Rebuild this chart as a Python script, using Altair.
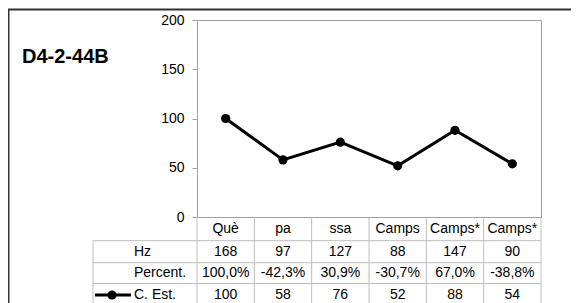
import altair as alt
import pandas as pd

# ---- data ----
title_text = "D4-2-44B"
categories = ["Què", "pa", "ssa", "Camps", "Camps*", "Camps*"]
hz_values = [168, 97, 127, 88, 147, 90]
percent_labels = ["100,0%", "-42,3%", "30,9%", "-30,7%", "67,0%", "-38,8%"]
c_est_values = [100, 58, 76, 52, 88, 54]
row_headers = ["Hz", "Percent.", "C. Est."]
y_ticks = [0, 50, 100, 150, 200]

idx = [str(i) for i in range(len(categories))]
df = pd.DataFrame({
    "idx": idx,
    "cat": categories,
    "hz": [str(v) for v in hz_values],
    "pct": percent_labels,
    "est": c_est_values,
    "est_txt": [str(v) for v in c_est_values],
})

W, H = 344, 197
STEP = W / len(categories)
FONT = "Liberation Sans"
GRID = "#bdbdbd"

xs = alt.X("idx:N", scale=alt.Scale(type="point", padding=0.5, domain=idx), axis=None)
ys = alt.Y("est:Q", scale=alt.Scale(domain=[0, 200]),
           axis=alt.Axis(values=y_ticks, grid=False, tickSize=5, labelPadding=8,
                         labelFontSize=14, labelColor="black", tickColor="#a0a0a0",
                         domainColor="#a0a0a0", title=None, labelFont=FONT))

base = alt.Chart(df)

line = base.mark_line(color="black", strokeWidth=3).encode(x=xs, y=ys)
pts = base.mark_point(filled=True, color="black", size=85, opacity=1).encode(x=xs, y=ys)

# table vertical dividers (column boundaries), from plot bottom downward
vdiv = base.mark_rule(color=GRID, strokeWidth=1, xOffset=-STEP / 2).encode(
    x=xs, y=alt.value(H), y2=alt.value(320))

one = pd.DataFrame({"k": [0]})
ob = alt.Chart(one)
right_edge = ob.mark_rule(color=GRID, strokeWidth=1).encode(
    x=alt.value(W), y=alt.value(H), y2=alt.value(320))
left_hdr = ob.mark_rule(color=GRID, strokeWidth=1).encode(
    x=alt.value(-104), y=alt.value(220.7), y2=alt.value(320))
hlines = [ob.mark_rule(color=GRID, strokeWidth=1).encode(
    x=alt.value(-104), x2=alt.value(W), y=alt.value(yy)) for yy in (220.7, 242.7, 263.5)]

TS = 14
def row_text(field, yy):
    return base.mark_text(font=FONT, fontSize=TS, color="black", align="center",
                          baseline="middle").encode(x=xs, y=alt.value(yy), text=f"{field}:N")

t_cat = row_text("cat", 208.5)
t_hz = row_text("hz", 231.7)
t_pct = row_text("pct", 253.3)
t_est = row_text("est_txt", 275)

hdr_df = pd.DataFrame({"h": row_headers, "r": [0, 1, 2]})
hdr_layers = []
for i, yy in enumerate((231.7, 253.3, 275)):
    hdr_layers.append(alt.Chart(hdr_df[hdr_df.r == i]).mark_text(
        font=FONT, fontSize=TS, color="black", align="left", baseline="middle").encode(
        x=alt.value(-63), y=alt.value(yy), text="h:N"))

# legend key in the C. Est. row
key_line = ob.mark_rule(color="black", strokeWidth=3).encode(
    x=alt.value(-102), x2=alt.value(-66), y=alt.value(275))
key_pt = ob.mark_point(filled=True, color="black", size=85, opacity=1).encode(
    x=alt.value(-85), y=alt.value(275))

title_df = pd.DataFrame({"t": [title_text]})
title = alt.Chart(title_df).mark_text(font=FONT, fontSize=20, fontWeight="bold",
                                      color="black", align="left", baseline="alphabetic").encode(
    x=alt.value(-175), y=alt.value(43), text="t:N")

frame = ob.mark_rect(fill=None, stroke="#333333", strokeWidth=2).encode(
    x=alt.value(-188.5), y=alt.value(-10.5), x2=alt.value(600), y2=alt.value(400))

chart = alt.layer(
    frame, vdiv, right_edge, left_hdr, *hlines,
    t_cat, t_hz, t_pct, t_est, *hdr_layers, key_line, key_pt, title,
    line, pts,
).properties(
    width=W, height=H,
    padding={"left": 189, "top": 12, "right": 30, "bottom": 86},
    autosize=alt.AutoSizeParams(type="none"),
    background="white",
).configure_view(stroke="#a0a0a0", strokeWidth=1).configure_text(font=FONT)

chart.save("out.html", embed_options={"renderer": "svg", "actions": False})
